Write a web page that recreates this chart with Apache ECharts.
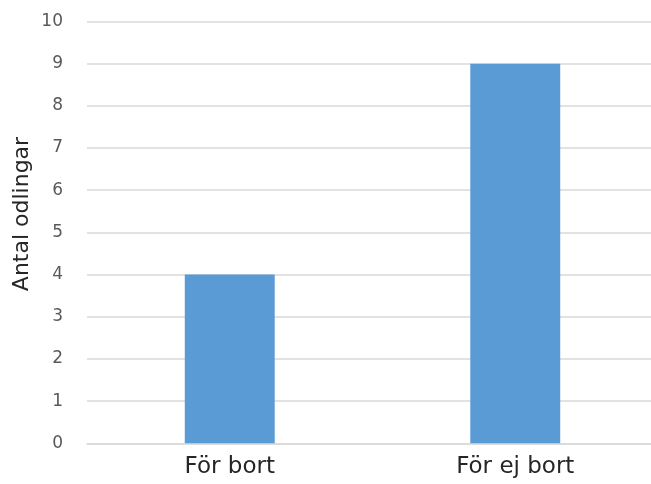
<!DOCTYPE html>
<html>
<head>
<meta charset="utf-8">
<script src="https://cdn.jsdelivr.net/npm/echarts@6/dist/echarts.min.js"></script>
<style>
  html, body { margin: 0; padding: 0; background: #ffffff; overflow: hidden; }
  /* the drawing surface is a bit wider than the window so the plot runs off the right edge */
  #chart { width: 662px; height: 484px; }
</style>
</head>
<body>
<div id="chart"></div>
<script>
// Antal odlingar per grupp
const categories = ['För bort', 'För ej bort'];
const counts = [4, 9];
const yTicks = { min: 0, max: 10, interval: 1 };
const yTitle = 'Antal odlingar';

const chart = echarts.init(document.getElementById('chart'), null, { renderer: 'canvas' });

chart.setOption({
  animation: false,
  backgroundColor: '#ffffff',
  grid: { left: 87, right: 4, top: 21.5, bottom: 40.7, containLabel: false },
  xAxis: {
    type: 'category',
    data: categories,
    axisLine: { show: true, lineStyle: { color: '#d9d9d9', width: 1.5 } },
    axisTick: { show: false },
    axisLabel: {
      margin: 12,
      color: '#262626',
      fontFamily: 'DejaVu Sans',
      fontSize: 23
    }
  },
  yAxis: {
    type: 'value',
    min: yTicks.min,
    max: yTicks.max,
    interval: yTicks.interval,
    axisLine: { show: false },
    axisTick: { show: false },
    splitLine: { lineStyle: { color: '#d9d9d9', width: 1.5 } },
    axisLabel: {
      margin: 24,
      color: '#595959',
      fontFamily: 'DejaVu Sans',
      fontSize: 17
    }
  },
  graphic: [{
    type: 'text',
    rotation: Math.PI / 2,
    x: 22, y: 214,
    style: {
      text: yTitle,
      fill: '#262626',
      font: '22px "DejaVu Sans"',
      align: 'center',
      verticalAlign: 'middle'
    }
  }],
  series: [{
    type: 'bar',
    data: counts,
    barWidth: '31.5%',
    itemStyle: { color: '#5b9bd5' }
  }]
});
</script>
</body>
</html>
